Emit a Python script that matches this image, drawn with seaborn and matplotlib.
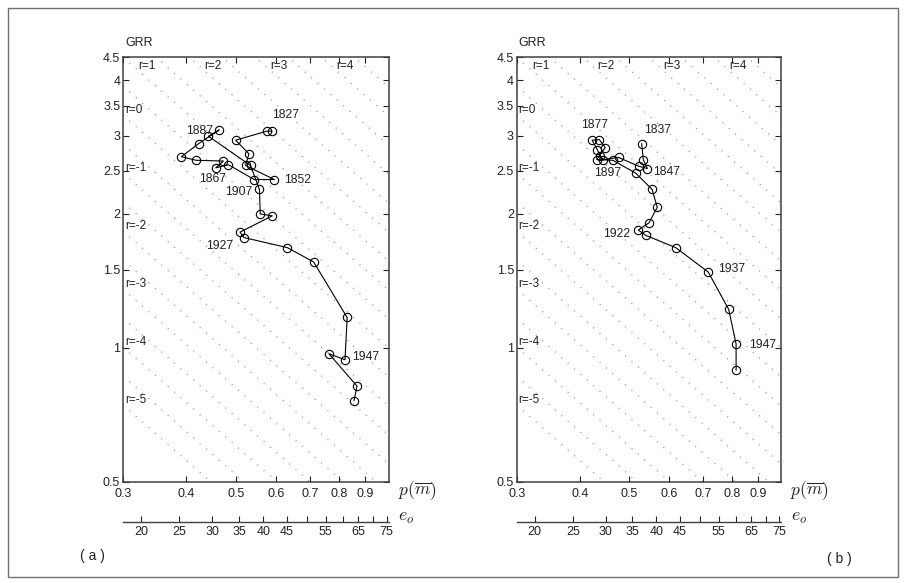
import numpy as np
import pandas as pd
import matplotlib
matplotlib.use("Agg")
import matplotlib.pyplot as plt
import seaborn as sns
from matplotlib.ticker import FixedLocator, FixedFormatter, NullLocator
from matplotlib.patches import Rectangle

# ---------------- data ----------------
years_a = list(range(1827, 1963, 5))
p_a = [0.590, 0.576, 0.500, 0.531, 0.523, 0.596, 0.544, 0.484, 0.457, 0.473,
       0.418, 0.391, 0.423, 0.464, 0.442, 0.535, 0.557, 0.559, 0.590, 0.510,
       0.519, 0.632, 0.712, 0.829, 0.821, 0.763, 0.867, 0.855]
grr_a = [3.07, 3.07, 2.93, 2.73, 2.57, 2.39, 2.39, 2.58, 2.54, 2.63,
         2.64, 2.69, 2.88, 3.09, 2.99, 2.57, 2.27, 2.00, 1.98, 1.82,
         1.77, 1.68, 1.56, 1.17, 0.94, 0.97, 0.82, 0.76]
label_years_a = [1827, 1852, 1867, 1887, 1907, 1927, 1947]

years_b = list(range(1837, 1953, 5))
p_b = [0.530, 0.534, 0.544, 0.523, 0.477, 0.445, 0.439, 0.433, 0.423, 0.437,
       0.449, 0.432, 0.465, 0.516, 0.556, 0.569, 0.548, 0.522, 0.540, 0.619,
       0.718, 0.788, 0.815, 0.815]
grr_b = [2.88, 2.65, 2.53, 2.56, 2.68, 2.65, 2.70, 2.79, 2.93, 2.94,
         2.82, 2.65, 2.64, 2.47, 2.27, 2.07, 1.91, 1.84, 1.79, 1.68,
         1.48, 1.22, 1.02, 0.89]
label_years_b = [1837, 1847, 1877, 1897, 1922, 1937, 1947]

x_ticks = [0.3, 0.4, 0.5, 0.6, 0.7, 0.8, 0.9]
x_ticklabels = ["0.3", "0.4", "0.5", "0.6", "0.7", "0.8", "0.9"]
y_ticks = [0.5, 1, 1.5, 2, 2.5, 3, 3.5, 4, 4.5]
y_ticklabels = ["0.5", "1", "1.5", "2", "2.5", "3", "3.5", "4", "4.5"]
e0_values = [20, 25, 30, 35, 40, 45, 50, 55, 60, 65, 70, 75]
e0_labels = ["20", "25", "30", "35", "40", "45", "", "55", "", "65", "", "75"]
e0_at_p = [0.3255, 0.3873, 0.4498, 0.5083, 0.5669, 0.6304, 0.6921, 0.7523,
           0.8146, 0.8721, 0.9335, 0.9920]
r_lines = list(np.arange(-5.0, 5.01, 0.5))
r_top_labels = [1, 2, 3, 4]
r_left_labels = [0, -1, -2, -3, -4, -5]
T_gen = 30.0  # mean length of generation (years)

# ---------------- style ----------------
sns.set_style("white")
plt.rcParams["font.family"] = ["Liberation Sans", "DejaVu Sans"]
plt.rcParams["mathtext.fontset"] = "cm"

W, H = 908, 583
fig = plt.figure(figsize=(W / 100, H / 100), dpi=100)
fig.patch.set_facecolor("white")

def fx(px):
    return px / W

def fy(py):
    return 1 - py / H

ax_top, ax_bot = 57.3, 481.7
panels = [
    dict(left=123.0, right=388.5, p=p_a, g=grr_a, yrs=years_a, lab=label_years_a,
         offs={1827: (13, 16, "center"), 1852: (10, 0, "left"), 1867: (-3, -11, "center"),
               1887: (1, 13, "center"), 1907: (-7, -3, "right"), 1927: (-11, -8, "right"),
               1947: (7, 3, "left")}),
    dict(left=516.7, right=781.0, p=p_b, g=grr_b, yrs=years_b, lab=label_years_b,
         offs={1837: (16, 14, "center"), 1847: (6, -3, "left"), 1877: (2, 15, "center"),
               1897: (-5, -13, "center"), 1922: (-8, -4, "right"), 1937: (10, 3, "left"),
               1947: (13, -1, "left")}),
]

edge = "#404040"
for pan in panels:
    ax = fig.add_axes([fx(pan["left"]), fy(ax_bot), fx(pan["right"] - pan["left"]),
                       (ax_bot - ax_top) / H])
    ax.set_xscale("log")
    ax.set_yscale("log")
    ax.set_xlim(0.3, 1.0)
    ax.set_ylim(0.5, 4.5)

    # iso-r dotted lines
    pp = np.array([0.3, 1.0])
    for r in r_lines:
        ax.plot(pp, np.exp(r * T_gen / 100.0) / pp, color="#8a8a8a",
                lw=0.9, ls=(0, (0.8, 6)), zorder=1)
    for r in r_top_labels:
        ax.text(np.exp(r * T_gen / 100.0) / 4.2, 4.3, f"r={r}", fontsize=8.5,
                ha="left", va="center", color="#222222", zorder=2)
    for r in r_left_labels:
        ax.annotate(f"r={r}", xy=(0.3, np.exp(r * T_gen / 100.0) / 0.3),
                    xytext=(2, 5), textcoords="offset pixels", fontsize=8.5,
                    ha="left", va="center", color="#222222", zorder=2)

    df = pd.DataFrame({"p": pan["p"], "grr": pan["g"], "year": pan["yrs"]})
    sns.lineplot(data=df, x="p", y="grr", sort=False, estimator=None, ax=ax,
                 color="black", lw=0.8, marker="o", markersize=6,
                 markerfacecolor="none", markeredgecolor="black",
                 markeredgewidth=0.8, zorder=3)
    for yr in pan["lab"]:
        row = df[df["year"] == yr].iloc[0]
        dx, dy, ha = pan["offs"][yr]
        ax.annotate(str(yr), xy=(row["p"], row["grr"]), xytext=(dx, dy),
                    textcoords="offset pixels", fontsize=8.7, ha=ha, va="center",
                    color="#222222", zorder=4)

    ax.xaxis.set_major_locator(FixedLocator(x_ticks))
    ax.xaxis.set_major_formatter(FixedFormatter(x_ticklabels))
    ax.xaxis.set_minor_locator(NullLocator())
    ax.yaxis.set_major_locator(FixedLocator(y_ticks))
    ax.yaxis.set_major_formatter(FixedFormatter(y_ticklabels))
    ax.yaxis.set_minor_locator(NullLocator())
    ax.tick_params(direction="in", length=4, width=0.8, top=True, right=True,
                   bottom=True, left=True, labelsize=9, colors="#222222", pad=2)
    ax.tick_params(axis="x", pad=4.5)
    ax.set_xlabel("")
    ax.set_ylabel("")
    for s in ax.spines.values():
        s.set_color(edge)
        s.set_linewidth(1.1)
        s.set_visible(True)

    # GRR label and p(m) label
    fig.text(fx(pan["left"] + 2), fy(43), "GRR", fontsize=9, ha="left",
             va="center", color="#222222")
    fig.text(fx(pan["right"] + 9), fy(491), r"$p(\overline{m})$", fontsize=12.5,
             ha="left", va="center", color="#222222")

    # e0 auxiliary axis
    ae = fig.add_axes([fx(pan["left"]), fy(521.7), fx(pan["right"] - pan["left"]), 0.01])
    ae.set_xscale("log")
    ae.set_xlim(0.3, 1.0)
    ae.patch.set_alpha(0)
    for k in ["top", "left", "right"]:
        ae.spines[k].set_visible(False)
    ae.spines["bottom"].set_color(edge)
    ae.spines["bottom"].set_linewidth(1.0)
    ae.yaxis.set_major_locator(NullLocator())
    ae.yaxis.set_minor_locator(NullLocator())
    ae.xaxis.set_major_locator(FixedLocator(e0_at_p))
    ae.xaxis.set_major_formatter(FixedFormatter(e0_labels))
    ae.xaxis.set_minor_locator(NullLocator())
    ae.tick_params(axis="x", direction="in", length=4.5, width=0.8, labelsize=9,
                   colors="#222222", pad=3, bottom=True, top=False)
    fig.text(fx(pan["right"] + 10), fy(517), r"$e_o$", fontsize=13,
             ha="left", va="center", color="#222222")

fig.text(fx(92), fy(556), "( a )", fontsize=10, ha="center", va="center", color="#222222")
fig.text(fx(839), fy(559), "( b )", fontsize=10, ha="center", va="center", color="#222222")

fig.patches.append(Rectangle((fx(8), fy(577)), fx(890), (577 - 8) / H,
                             transform=fig.transFigure, fill=False,
                             edgecolor="#707070", lw=1.0))

fig.savefig("out.png", dpi=100)
